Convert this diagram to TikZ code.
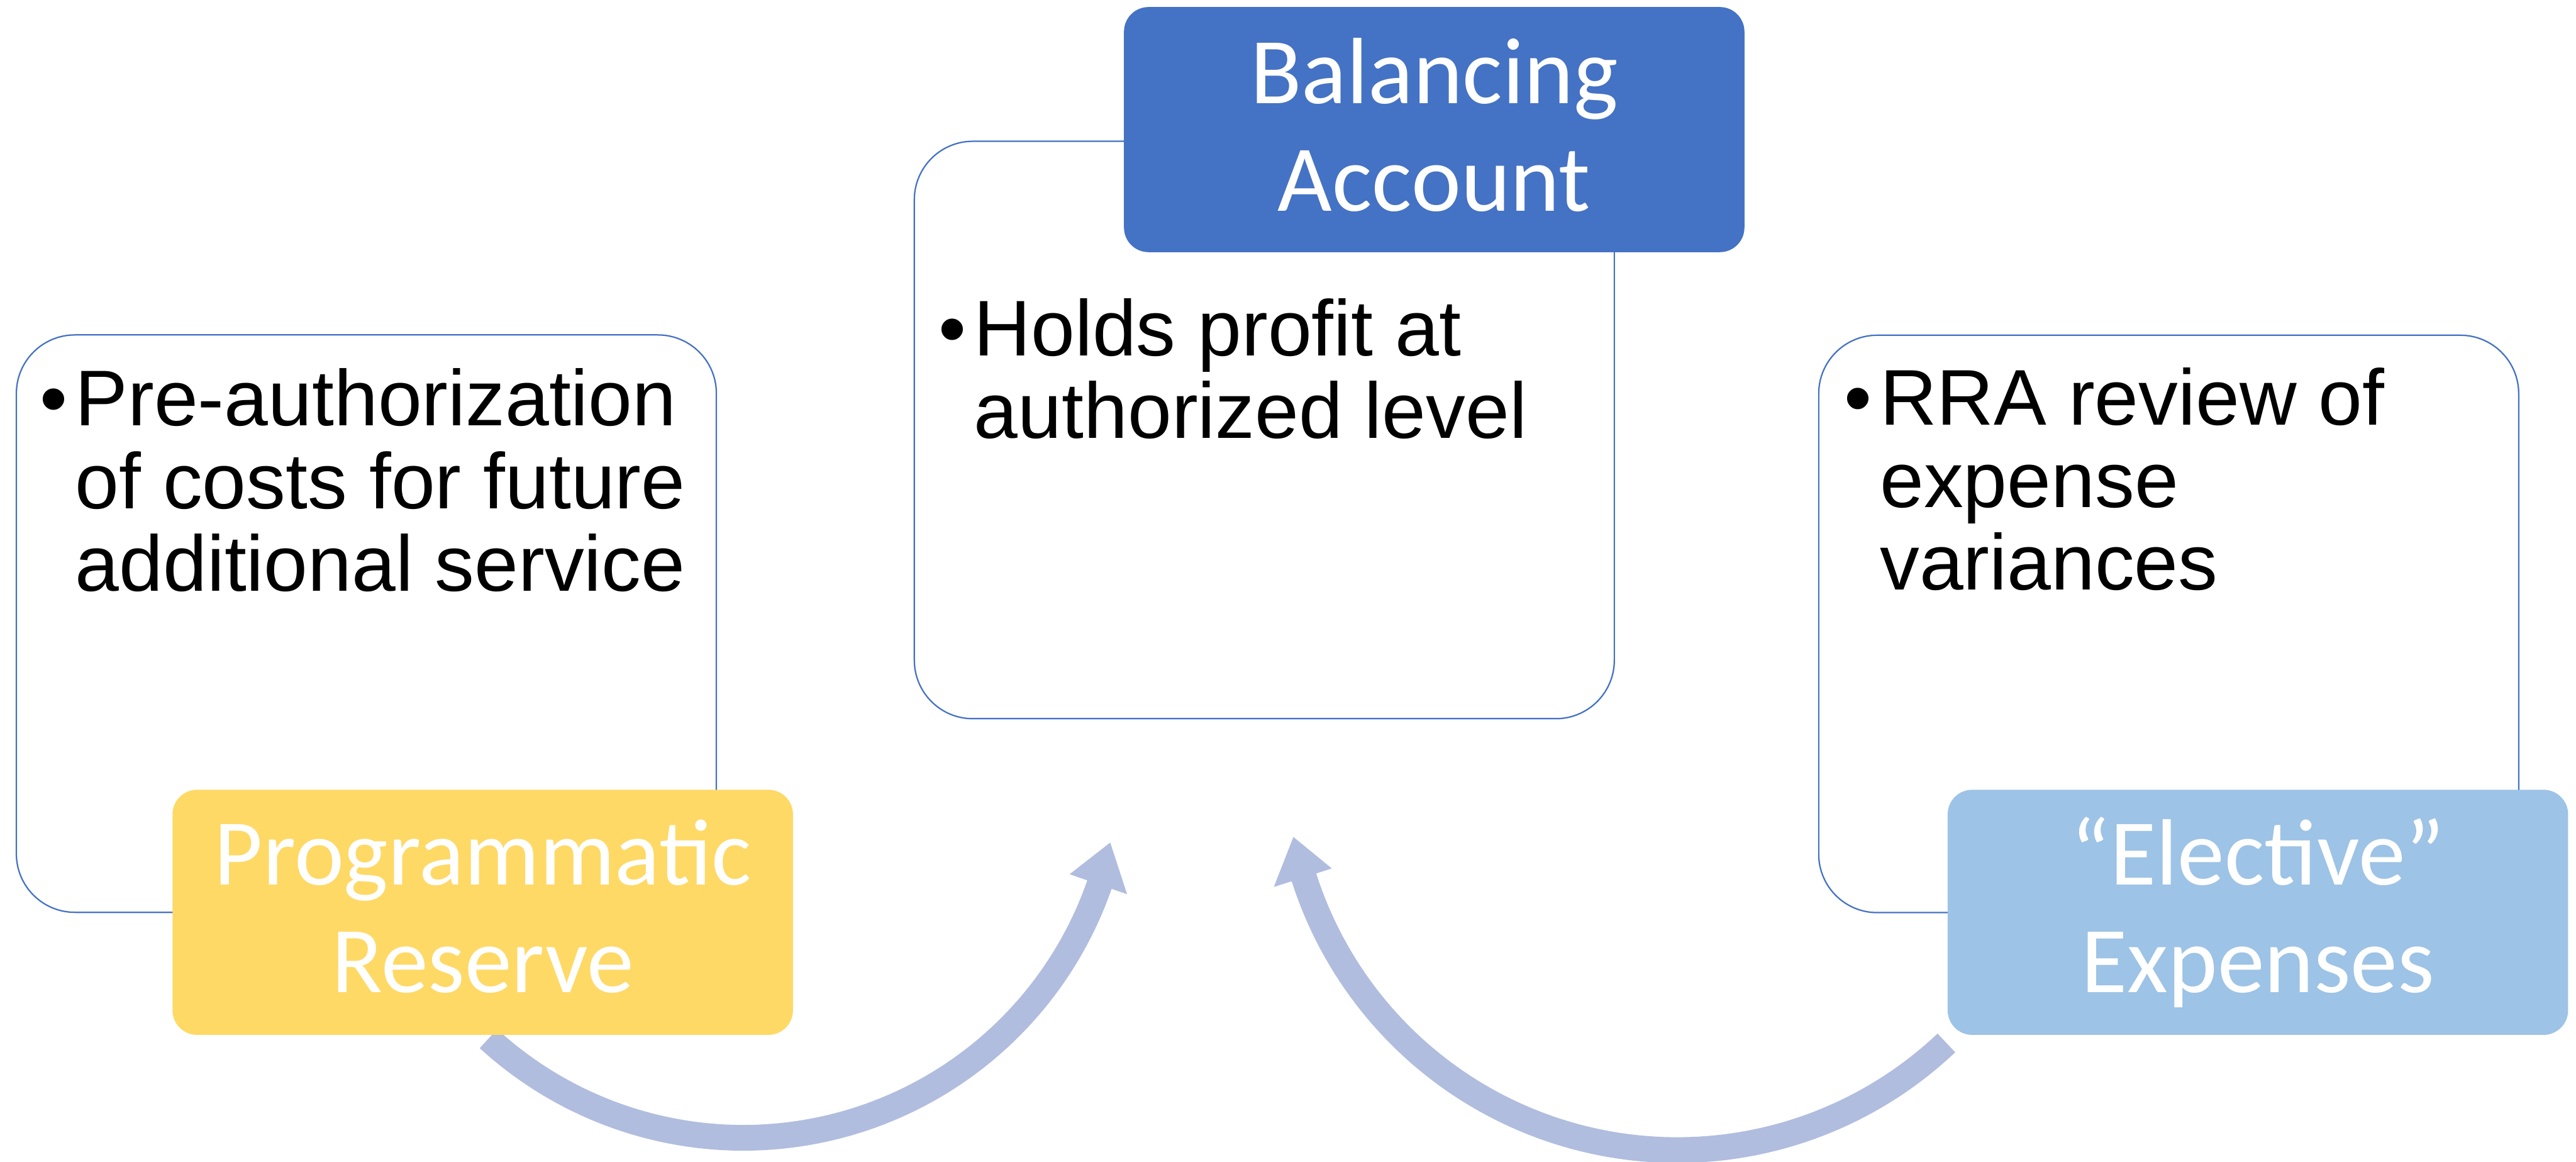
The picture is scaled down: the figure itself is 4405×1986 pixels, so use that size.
\documentclass[tikz,border=0pt]{standalone}
\usepackage{fontspec}
\newfontfamily\bodyfont{Liberation Sans}
\newfontfamily\headfont{Carlito}
\definecolor{boxline}{HTML}{4472C4}
\definecolor{goldfill}{HTML}{FFD966}
\definecolor{navyfill}{HTML}{4472C4}
\definecolor{skyfill}{HTML}{9DC3E6}
\definecolor{arrowfill}{HTML}{B0BDDE}
\begin{document}
\begin{tikzpicture}[x=0.25pt,y=-0.25pt,
  wbox/.style={draw=boxline, line width=0.6pt, fill=white, rounded corners=25pt,
    minimum width=299.25pt, minimum height=246.75pt, inner sep=0pt, outer sep=0pt},
  hbox/.style={rounded corners=10.5pt, minimum width=265.25pt, minimum height=104.75pt,
    inner sep=0pt, outer sep=0pt},
  btext/.style={inner sep=0pt, anchor=base west,
    font=\bodyfont\fontsize{33.75pt}{35.25pt}\selectfont},
  htext/.style={inner sep=0pt, anchor=base, text=white,
    font=\headfont\fontsize{40.25pt}{46pt}\selectfont},
  arrowband/.style={fill=arrowfill}]
\fill[white] (0,0) rectangle (4405,1986);
\useasboundingbox (0,0) rectangle (4405,1986);

% curved arrows (drawn first, boxes lie over them)
\coordinate (lc) at (1271,1300);
\coordinate (rc) at (2868,1296);
\begin{scope}[shift={(lc)}]
\fill[arrowband] plot[domain=132.5:19.2, samples=90] (\x:667)
  -- (19.2:695) -- (12.6:643) -- (19.2:591)
  -- plot[domain=19.2:132.5, samples=90] (\x:623) -- cycle;
\end{scope}
\begin{scope}[shift={(rc)}]
\fill[arrowband] plot[domain=46.6:162.3, samples=90] (\x:692)
  -- (162.3:724) -- (168.4:670) -- (162.3:620)
  -- plot[domain=162.3:46.6, samples=90] (\x:648) -- cycle;
\end{scope}

% white content boxes
\node[wbox] (lbox) at (626.5,1066) {};
\node[wbox] (cbox) at (2162,735) {};
\node[wbox] (rbox) at (3708.5,1066.5) {};

% coloured header boxes
\node[hbox, fill=goldfill] (ybox) at (825.5,1559.5) {};
\node[hbox, fill=navyfill] (dbox) at (2452.5,221.5) {};
\node[hbox, fill=skyfill] (sbox) at (3861,1559.5) {};

% bullet texts
\node[btext] (ltext) at (128,728) {\begin{tabular}[t]{@{}l@{}}\llap{•\hspace{3.4pt}}Pre-authorization\\of costs for future\\additional service\end{tabular}};
\node[btext] (ctext) at (1665,608) {\begin{tabular}[t]{@{}l@{}}\llap{•\hspace{3.4pt}}Holds profit at\\authorized level\end{tabular}};
\node[btext] (rtext) at (3214,726) {\begin{tabular}[t]{@{}l@{}}\llap{•\hspace{3.4pt}}RRA review of\\expense\\variances\end{tabular}};

% header texts
\node[htext] (ytext) at (825.5,1513) {\begin{tabular}[t]{@{}c@{}}Programmatic\\Reserve\end{tabular}};
\node[htext] (dtext) at (2452.5,177) {\begin{tabular}[t]{@{}c@{}}Balancing\\Account\end{tabular}};
\node[htext] (stext) at (3861,1513) {\begin{tabular}[t]{@{}c@{}}“Elective”\\Expenses\end{tabular}};
\end{tikzpicture}
\end{document}
